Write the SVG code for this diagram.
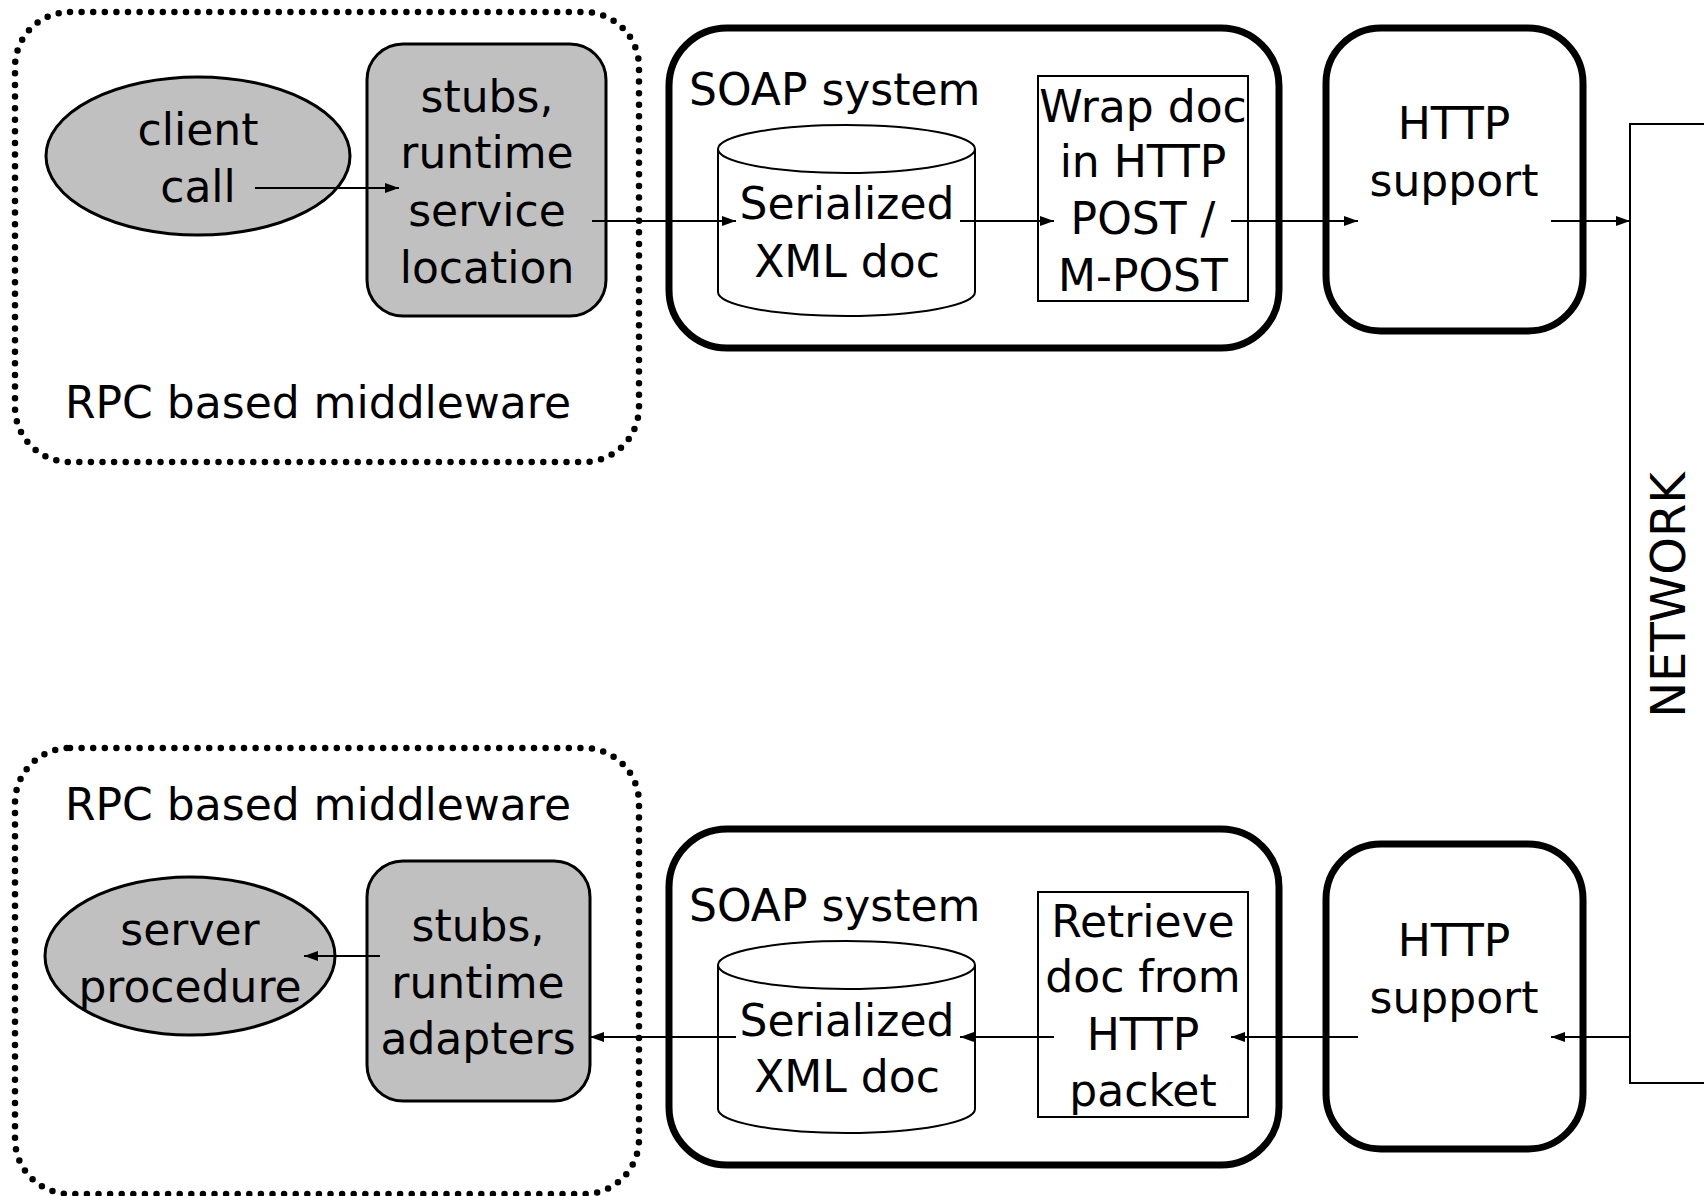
<svg xmlns="http://www.w3.org/2000/svg" width="1704" height="1196" viewBox="0 0 1704 1196">
<style>
text{font-family:"DejaVu Sans","Liberation Sans",sans-serif;font-size:44px;fill:#000;text-anchor:middle}
.dot{fill:none;stroke:#000;stroke-width:6.5;stroke-linecap:round;stroke-dasharray:0 11.6}
.grey{fill:#c0c0c0;stroke:#000;stroke-width:3}
.thick{fill:#fff;stroke:#000;stroke-width:7}
.thin{fill:#fff;stroke:#000;stroke-width:2}
.conn line{stroke:#000;stroke-width:2;marker-end:url(#ah)}
</style>
<defs>
<marker id="ah" viewBox="0 0 14 10" refX="14" refY="5" markerWidth="14" markerHeight="10" markerUnits="userSpaceOnUse" orient="auto">
<path d="M0,0 L14,5 L0,10 Z" fill="#000"/>
</marker>
</defs>
<rect width="1704" height="1196" fill="#fff"/>

<g id="rpc-top">
<rect class="dot" x="15" y="12" width="624" height="450" rx="55"/>
<text x="318" y="418">RPC based middleware</text>
</g>
<g id="client-call">
<ellipse class="grey" cx="198" cy="156" rx="152" ry="79"/>
<text x="198" y="145">client</text>
<text x="198" y="202">call</text>
</g>
<g id="stubs-top">
<rect class="grey" x="367" y="44" width="239" height="272" rx="36"/>
<text x="487" y="112">stubs,</text>
<text x="487" y="168">runtime</text>
<text x="487" y="226">service</text>
<text x="487" y="283">location</text>
</g>
<g id="soap-top">
<rect class="thick" x="669" y="28" width="610" height="320" rx="58"/>
<text x="689" y="105" style="text-anchor:start">SOAP system</text>
</g>
<g id="xml-top">
<path class="thin" d="M718,149 V292 A128.5,24 0 0 0 975,292 V149"/>
<ellipse class="thin" cx="846.5" cy="149" rx="128.5" ry="24"/>
<text x="847" y="219">Serialized</text>
<text x="847" y="277">XML doc</text>
</g>
<g id="wrap">
<rect class="thin" x="1038" y="76" width="210" height="225"/>
<text x="1143" y="122">Wrap doc</text>
<text x="1143" y="177">in HTTP</text>
<text x="1143" y="234">POST /</text>
<text x="1143" y="291">M-POST</text>
</g>
<g id="http-top">
<rect class="thick" x="1326" y="28" width="257" height="303" rx="55"/>
<text x="1454" y="139">HTTP</text>
<text x="1454" y="196">support</text>
</g>

<g id="network">
<path d="M1710,124 H1630 V1083 H1710" fill="#fff" stroke="#000" stroke-width="2"/>
<text transform="translate(1685,595) rotate(-90)" style="font-size:48px">NETWORK</text>
</g>

<g id="rpc-bottom">
<rect class="dot" x="15" y="748" width="624" height="446" rx="55"/>
<text x="318" y="820">RPC based middleware</text>
</g>
<g id="server-procedure">
<ellipse class="grey" cx="190" cy="956" rx="145" ry="79"/>
<text x="190" y="945">server</text>
<text x="190" y="1002">procedure</text>
</g>
<g id="stubs-bottom">
<rect class="grey" x="367" y="861" width="223" height="240" rx="36"/>
<text x="478" y="941">stubs,</text>
<text x="478" y="998">runtime</text>
<text x="478" y="1054">adapters</text>
</g>
<g id="soap-bottom">
<rect class="thick" x="669" y="829" width="610" height="336" rx="58"/>
<text x="689" y="921" style="text-anchor:start">SOAP system</text>
</g>
<g id="xml-bottom">
<path class="thin" d="M718,965 V1109 A128.5,24 0 0 0 975,1109 V965"/>
<ellipse class="thin" cx="846.5" cy="965" rx="128.5" ry="24"/>
<text x="847" y="1036">Serialized</text>
<text x="847" y="1092">XML doc</text>
</g>
<g id="retrieve">
<rect class="thin" x="1038" y="892" width="210" height="225"/>
<text x="1143" y="937">Retrieve</text>
<text x="1143" y="992">doc from</text>
<text x="1143" y="1050">HTTP</text>
<text x="1143" y="1106">packet</text>
</g>
<g id="http-bottom">
<rect class="thick" x="1326" y="844" width="257" height="305" rx="55"/>
<text x="1454" y="956">HTTP</text>
<text x="1454" y="1013">support</text>
</g>

<g id="connectors" class="conn">
<line x1="255" y1="188" x2="399" y2="188"/>
<line x1="592" y1="221" x2="736" y2="221"/>
<line x1="960" y1="221" x2="1054" y2="221"/>
<line x1="1231" y1="221" x2="1358" y2="221"/>
<line x1="1551" y1="221" x2="1630" y2="221"/>
<line x1="1630" y1="1037" x2="1551" y2="1037"/>
<line x1="1358" y1="1037" x2="1231" y2="1037"/>
<line x1="1054" y1="1037" x2="960" y2="1037"/>
<line x1="736" y1="1037" x2="590" y2="1037"/>
<line x1="380" y1="956" x2="304" y2="956"/>
</g>
</svg>
